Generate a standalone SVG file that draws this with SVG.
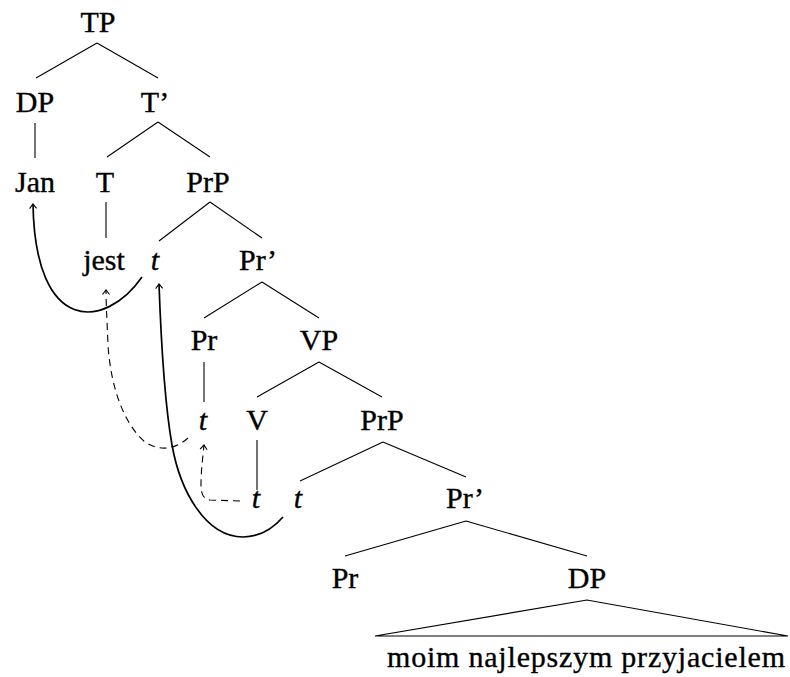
<svg xmlns="http://www.w3.org/2000/svg" width="790" height="677" viewBox="0 0 790 677">
<style>
text{font-family:"Liberation Serif","Times New Roman",serif;font-size:30px;fill:#000;stroke:#000;stroke-width:0.35;text-anchor:middle}
.it{font-style:italic}
.br{stroke:#000;stroke-width:1.1;fill:none}
.mv{stroke:#000;stroke-width:1.7;fill:none}
.dm{stroke:#000;stroke-width:1.1;fill:none;stroke-dasharray:7 5}
</style>
<defs>
<marker id="ah" markerUnits="userSpaceOnUse" markerWidth="12" markerHeight="12" viewBox="-6 -6 12 12" refX="0" refY="0" orient="auto">
<path d="M-4.5,-3.5 L0,0 L-4.5,3.5" fill="none" stroke="#000" stroke-width="1.1"/>
</marker>
</defs>
<rect width="790" height="677" fill="#fff"/>
<g id="branches">
<path class="br" d="M97,43 L36,78 M97,43 L158,78"/>
<path class="br" d="M35,123 L35,158"/>
<path class="br" d="M158,122 L107,157 M158,122 L210,157"/>
<path class="br" d="M106,202 L106,238"/>
<path class="br" d="M210,202 L159,241 M210,202 L262,238"/>
<path class="br" d="M262,282 L204,318 M262,282 L319,318"/>
<path class="br" d="M204,362 L204,402"/>
<path class="br" d="M319,362 L257,397 M319,362 L382,397"/>
<path class="br" d="M257,440 L257,490"/>
<path class="br" d="M383,442 L300,481 M383,442 L466,477"/>
<path class="br" d="M466,521 L345,556 M466,521 L587,556"/>
<path class="br" d="M587,600 L375,636 L788,636 Z"/>
</g>
<g id="movement">
<path class="mv" d="M142,277 C105,330 35,335 33,204" marker-end="url(#ah)"/>
<path class="mv" d="M283,517 C270,532 257,537 243,537 C205,537 180,490 172,445 C165,405 161,340 159,284" marker-end="url(#ah)"/>
<path class="dm" d="M188,438 C176,449 160,452 145,442 C125,425 111,390 108,345 C107,320 106,302 106,290" marker-end="url(#ah)"/>
<path class="dm" d="M240,501 L210,500 C203,499 201,494 201,485 C201,470 203,456 204,445" marker-end="url(#ah)"/>
</g>
<g id="n-TP"><text x="98" y="32">TP</text></g>
<g id="n-DP1"><text x="35" y="112">DP</text></g>
<g id="n-Tbar"><text x="155" y="112">T’</text></g>
<g id="n-Jan"><text x="35" y="192">Jan</text></g>
<g id="n-T"><text x="105" y="192">T</text></g>
<g id="n-PrP1"><text x="208" y="192">PrP</text></g>
<g id="n-jest"><text x="104" y="270">jest</text></g>
<g id="n-t1"><text class="it" x="155" y="270">t</text></g>
<g id="n-Prbar1"><text x="258" y="270">Pr’</text></g>
<g id="n-Pr1"><text x="204" y="350">Pr</text></g>
<g id="n-VP"><text x="319" y="350">VP</text></g>
<g id="n-t2"><text class="it" x="203" y="430">t</text></g>
<g id="n-V"><text x="257" y="430">V</text></g>
<g id="n-PrP2"><text x="382" y="430">PrP</text></g>
<g id="n-t3"><text class="it" x="256" y="508">t</text></g>
<g id="n-t4"><text class="it" x="298" y="508">t</text></g>
<g id="n-Prbar2"><text x="465" y="508">Pr’</text></g>
<g id="n-Pr2"><text x="345" y="588">Pr</text></g>
<g id="n-DP2"><text x="587" y="588">DP</text></g>
<g id="n-leaf"><text x="586" y="667" textLength="398" lengthAdjust="spacing">moim najlepszym przyjacielem</text></g>
</svg>
